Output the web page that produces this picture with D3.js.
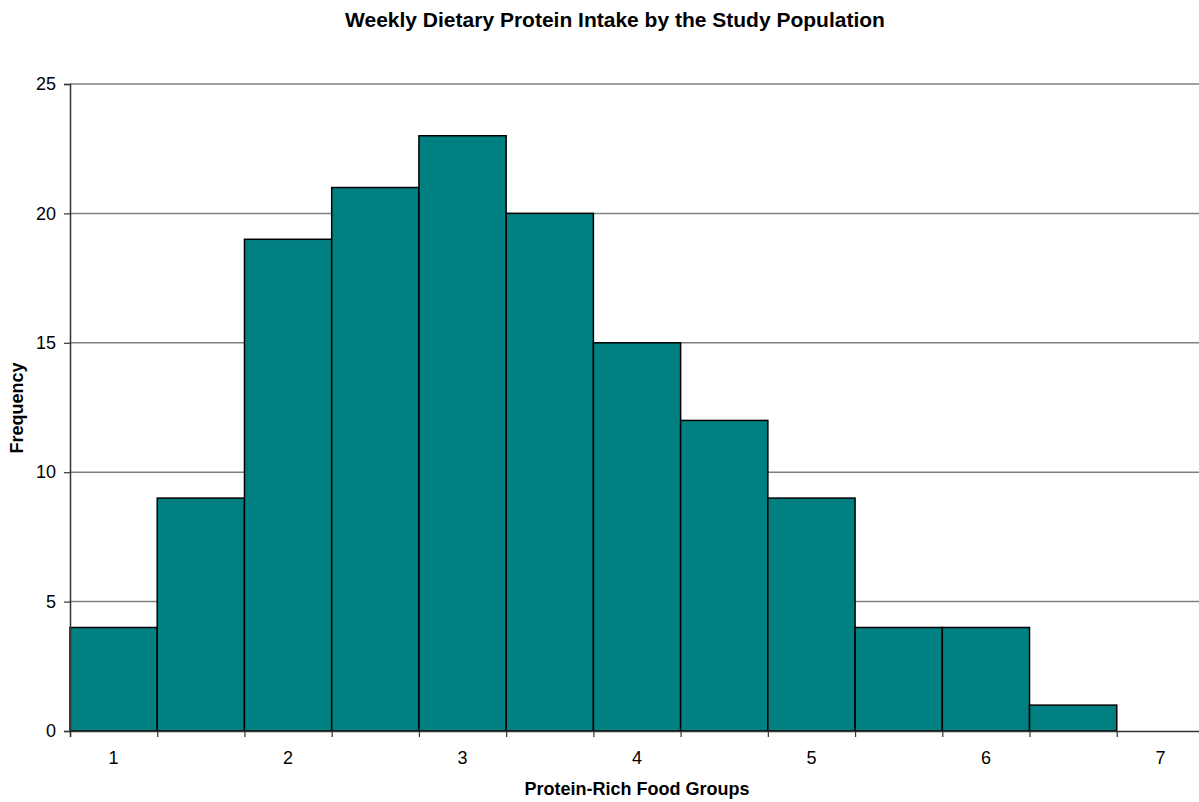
<html lang="en">
<head>
  <meta charset="UTF-8">
  <title>Weekly Dietary Protein Intake</title>
  <style>
    body { margin: 0; background: #fff; }
    text { font-family: "Liberation Sans", Arial, sans-serif; }
  </style>
</head>
<body>
  <script src="https://d3js.org/d3.v7.min.js"></script>
  <div id="chart"></div>
  <script>
    // bin centres (in food-group units) and their frequencies
    let binCenters = [1, 1.5, 2, 2.5, 3, 3.5, 4, 4.5, 5, 5.5, 6, 6.5, 7];
    let frequencies = [4, 9, 19, 21, 23, 20, 15, 12, 9, 4, 4, 1, 0];
    let xTickLabels = [1, 2, 3, 4, 5, 6, 7];
    let yTicks = [0, 5, 10, 15, 20, 25];
    let binWidth = 0.5;

    function translate(x, y) { return 'translate(' + x + ',' + y + ')'; }

    let W = 1199, H = 802;
    let plot = { left: 70, right: 1204, top: 84, bottom: 731 };

    let svg = d3.select('#chart').append('svg')
      .attr('width', W)
      .attr('height', H);

    let x = d3.scaleLinear()
      .domain([binCenters[0] - binWidth / 2, binCenters[binCenters.length - 1] + binWidth / 2])
      .range([plot.left, plot.right]);

    let y = d3.scaleLinear()
      .domain([0, 25])
      .range([plot.bottom, plot.top]);

    // gridlines
    svg.append('g')
      .selectAll('line')
      .data(yTicks.filter(d => d > 0))
      .enter().append('line')
        .attr('x1', plot.left)
        .attr('x2', plot.right)
        .attr('y1', d => y(d))
        .attr('y2', d => y(d))
        .attr('stroke', '#808080')
        .attr('stroke-width', 1.5);

    // bars
    svg.append('g')
      .selectAll('rect')
      .data(binCenters.map((c, i) => ({ c: c, v: frequencies[i] })).filter(d => d.v > 0))
      .enter().append('rect')
        .attr('x', d => x(d.c - binWidth / 2))
        .attr('y', d => y(d.v))
        .attr('width', d => x(d.c + binWidth / 2) - x(d.c - binWidth / 2))
        .attr('height', d => y(0) - y(d.v))
        .attr('fill', '#008080')
        .attr('stroke', '#000')
        .attr('stroke-width', 1.5);

    // y axis
    let yAxis = svg.append('g')
      .attr('transform', translate(plot.left, 0))
      .call(d3.axisLeft(y).tickValues(yTicks).tickSize(6).tickPadding(8));
    yAxis.select('.domain').attr('stroke', '#333').attr('stroke-width', 1.5);
    yAxis.selectAll('.tick line').attr('stroke', '#333').attr('stroke-width', 1.2);
    yAxis.selectAll('.tick text')
      .style('font-size', '18px')
      .style('font-family', '"Liberation Sans", Arial, sans-serif')
      .attr('fill', '#000');

    // x axis: tick marks at bin edges, labels at whole-number centres
    let edges = binCenters.map(c => c - binWidth / 2).concat([binCenters[binCenters.length - 1] + binWidth / 2]);
    let xAxis = svg.append('g')
      .attr('transform', translate(0, plot.bottom))
      .call(d3.axisBottom(x).tickValues(edges).tickSize(6).tickFormat(''));
    xAxis.select('.domain').attr('stroke', '#333').attr('stroke-width', 1.5);
    xAxis.selectAll('.tick line').attr('stroke', '#333').attr('stroke-width', 1.2);

    svg.append('g')
      .selectAll('text')
      .data(xTickLabels)
      .enter().append('text')
        .attr('x', d => x(d))
        .attr('y', plot.bottom + 33)
        .attr('text-anchor', 'middle')
        .style('font-size', '18px')
        .text(d => d);

    // titles
    svg.append('text')
      .attr('x', 615)
      .attr('y', 27)
      .attr('text-anchor', 'middle')
      .style('font-size', '21px')
      .style('font-weight', 'bold')
      .text('Weekly Dietary Protein Intake by the Study Population');

    svg.append('text')
      .attr('x', 637)
      .attr('y', 795)
      .attr('text-anchor', 'middle')
      .style('font-size', '18px')
      .style('font-weight', 'bold')
      .text('Protein-Rich Food Groups');

    svg.append('text')
      .attr('transform', translate(23, 408) + ' rotate(-90)')
      .attr('text-anchor', 'middle')
      .style('font-size', '18px')
      .style('font-weight', 'bold')
      .text('Frequency');
  </script>
</body>
</html>
